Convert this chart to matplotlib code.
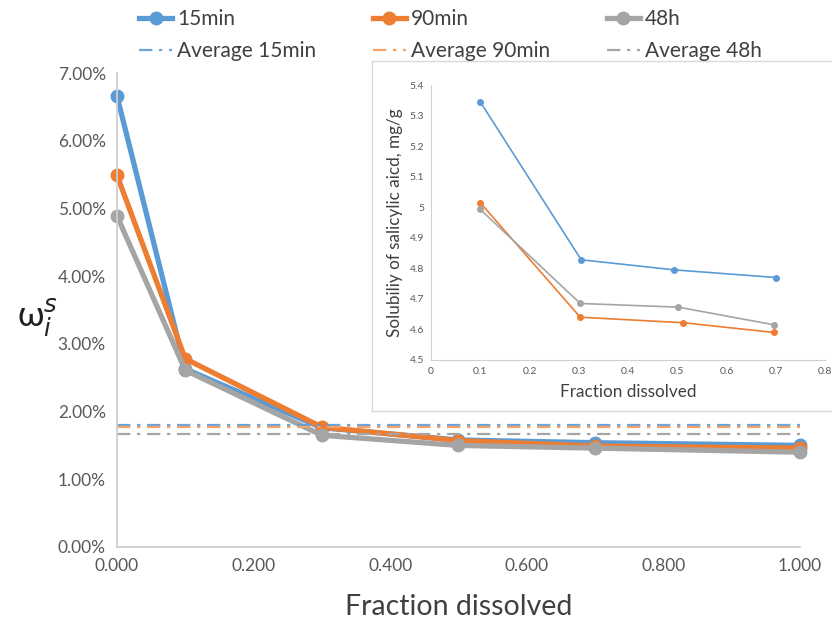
import matplotlib.pyplot as plt
from matplotlib.ticker import FuncFormatter

plt.rcParams['font.family'] = ['Lato', 'DejaVu Sans']

# main chart: mass fraction vs fraction dissolved
frac = [0.0, 0.1, 0.3, 0.5, 0.7, 1.0]
w_15min = [6.66, 2.63, 1.76, 1.58, 1.54, 1.50]
w_90min = [5.49, 2.78, 1.77, 1.57, 1.49, 1.46]
w_48h = [4.89, 2.61, 1.65, 1.50, 1.46, 1.40]
avg_15min = 1.80
avg_90min = 1.77
avg_48h = 1.67

# inset: solubility in mg/g
x_in_15 = [0.1, 0.305, 0.494, 0.70]
y_in_15 = [5.345, 4.828, 4.795, 4.770]
x_in_90 = [0.1, 0.303, 0.512, 0.697]
y_in_90 = [5.015, 4.640, 4.622, 4.590]
x_in_48 = [0.1, 0.303, 0.502, 0.697]
y_in_48 = [4.993, 4.685, 4.673, 4.615]

blue = '#5B9BD5'
orange = '#ED7D31'
gray = '#A5A5A5'
axis_gray = '#D0D0D0'
tick_gray = '#595959'
dashdot = (0, (6, 3, 1.5, 3))

fig = plt.figure(figsize=(8.32, 6.21), dpi=100)
ax = fig.add_axes([0.1406, 0.1192, 0.8209, 0.7632])

h15, = ax.plot(frac, w_15min, '-o', color=blue, lw=3.8, ms=9, label='15min')
h90, = ax.plot(frac, w_90min, '-o', color=orange, lw=3.8, ms=9, label='90min')
h48, = ax.plot(frac, w_48h, '-o', color=gray, lw=3.8, ms=9, label='48h')
a15 = ax.axhline(avg_15min, color=blue, lw=1.6, ls=dashdot, alpha=0.9, label='Average 15min')
a90 = ax.axhline(avg_90min, color='#F4A36C', lw=1.6, ls=dashdot, label='Average 90min')
a48 = ax.axhline(avg_48h, color=gray, lw=1.6, ls=dashdot, label='Average 48h')

ax.set_xlim(0, 1.0)
ax.set_ylim(0, 7.0)
ax.set_xticks([0, 0.2, 0.4, 0.6, 0.8, 1.0])
ax.set_yticks(range(8))
ax.xaxis.set_major_formatter(FuncFormatter(lambda v, p: f'{v:.3f}'))
ax.yaxis.set_major_formatter(FuncFormatter(lambda v, p: f'{v:.2f}%'))
ax.tick_params(length=0, labelsize=12.5, labelcolor=tick_gray, pad=8)
for s in ['top', 'right']:
    ax.spines[s].set_visible(False)
for s in ['left', 'bottom']:
    ax.spines[s].set_color(axis_gray)
    ax.spines[s].set_linewidth(1.3)
for m in ax.lines:
    m.set_clip_on(False)

ax.set_xlabel('Fraction dissolved', fontsize=20.5, color='#404040', labelpad=14)
fig.text(0.045, 0.49, r'ω$_i^s$', fontsize=25, color='#202020', ha='center', va='center')

fig.legend(handles=[h15, a15, h90, a90, h48, a48], ncol=3, loc='upper left',
           bbox_to_anchor=(0.145, 1.015), frameon=False, fontsize=15,
           handlelength=1.55, handletextpad=0.25, columnspacing=2.75,
           labelspacing=0.55, labelcolor='#404040')

# inset panel: white frame, then the small chart on top
frame = fig.add_axes([0.447, 0.338, 0.56, 0.563])
frame.set_xticks([])
frame.set_yticks([])
for s in frame.spines.values():
    s.set_color('#D9D9D9')
    s.set_linewidth(1.0)

ax2 = fig.add_axes([0.518, 0.4203, 0.4736, 0.4428])
ax2.plot(x_in_15, y_in_15, '-o', color=blue, lw=1.2, ms=4)
ax2.plot(x_in_90, y_in_90, '-o', color=orange, lw=1.2, ms=4)
ax2.plot(x_in_48, y_in_48, '-o', color=gray, lw=1.2, ms=4)
ax2.set_xlim(0, 0.8)
ax2.set_ylim(4.5, 5.4)
ax2.set_xticks([0, 0.1, 0.2, 0.3, 0.4, 0.5, 0.6, 0.7, 0.8])
ax2.set_xticklabels(['0', '0.1', '0.2', '0.3', '0.4', '0.5', '0.6', '0.7', '0.8'])
ax2.set_yticks([4.5, 4.6, 4.7, 4.8, 4.9, 5.0, 5.1, 5.2, 5.3, 5.4])
ax2.set_yticklabels(['4.5', '4.6', '4.7', '4.8', '4.9', '5', '5.1', '5.2', '5.3', '5.4'])
ax2.tick_params(length=0, labelsize=7.5, labelcolor=tick_gray, pad=5)
for s in ['top', 'right']:
    ax2.spines[s].set_visible(False)
for s in ['left', 'bottom']:
    ax2.spines[s].set_color(axis_gray)
    ax2.spines[s].set_linewidth(0.8)
ax2.set_xlabel('Fraction dissolved', fontsize=12.3, color='#404040', labelpad=6)
ax2.set_ylabel('Solubiliy of salicylic aicd, mg/g', fontsize=12.3, color='#404040', labelpad=5)

fig.savefig('out.png', dpi=100)
